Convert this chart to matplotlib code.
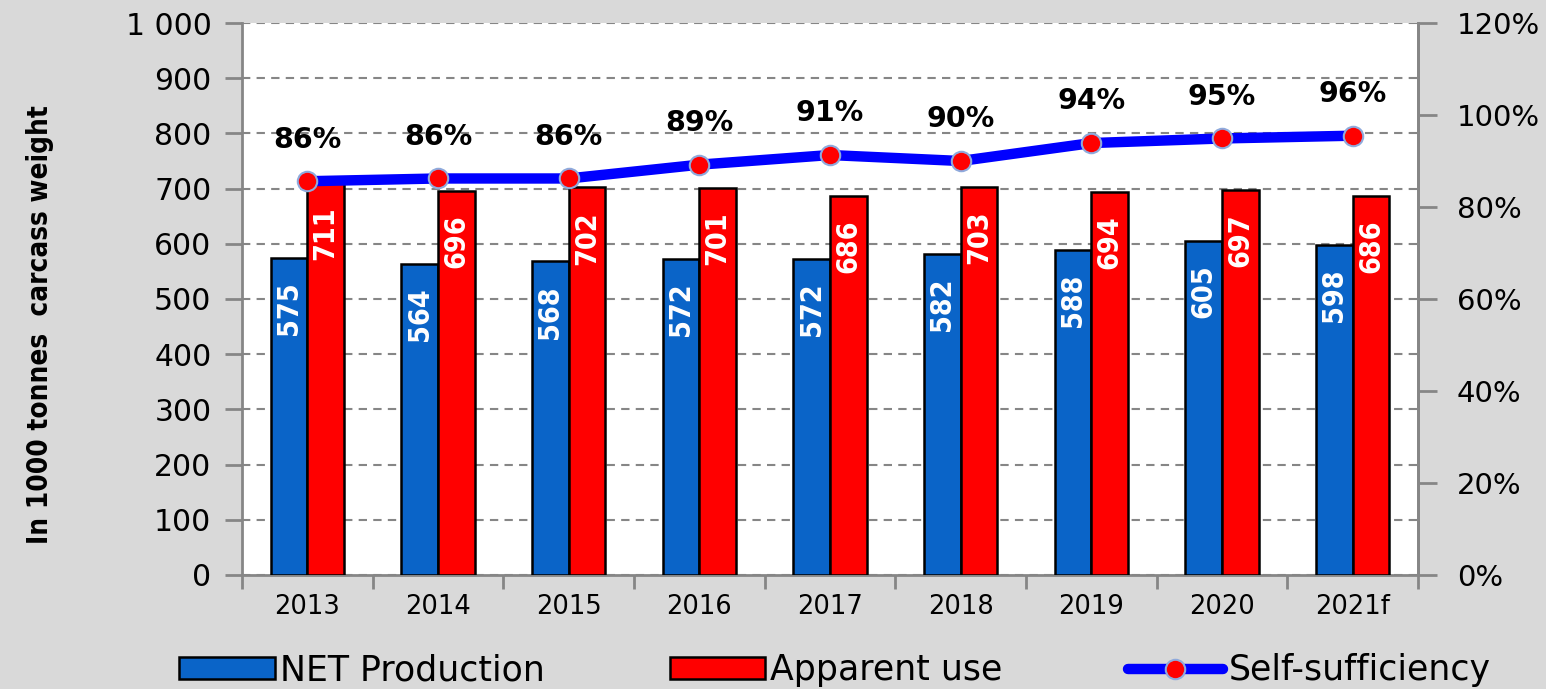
import numpy as np
import matplotlib.pyplot as plt
from matplotlib import font_manager as fm
from matplotlib.ticker import FuncFormatter, MultipleLocator

years = ["2013", "2014", "2015", "2016", "2017", "2018", "2019", "2020", "2021f"]
net_production = [575, 564, 568, 572, 572, 582, 588, 605, 598]
apparent_use = [711, 696, 702, 701, 686, 703, 694, 697, 686]
self_sufficiency = [85.6, 86.2, 86.2, 89.2, 91.3, 90.0, 93.9, 94.9, 95.5]
pct_labels = ["86%", "86%", "86%", "89%", "91%", "90%", "94%", "95%", "96%"]

bg = "#d9d9d9"
blue_bar = "#0a64c8"
red_bar = "#ff0000"
grid_col = "#868686"

# condensed DejaVu for the bar labels, if installed
cond_ok = any(f.name == "DejaVu Sans" and f.stretch == "condensed" and f.weight in ("bold", 700)
              for f in fm.fontManager.ttflist)
stretch = "condensed" if cond_ok else "normal"

fig = plt.figure(figsize=(15.46, 6.89), dpi=100, facecolor=bg)
ax = fig.add_axes([0.1565, 0.1655, 0.7607, 0.8011])
ax.set_facecolor("white")

x = np.arange(len(years))
w = 0.28
b1 = ax.bar(x - w / 2, net_production, w, color=blue_bar, edgecolor="black", linewidth=1.8,
            label="NET Production", zorder=3)
b2 = ax.bar(x + w / 2, apparent_use, w, color=red_bar, edgecolor="black", linewidth=1.8,
            label="Apparent use", zorder=3)

for bars, vals in [(b1, net_production), (b2, apparent_use)]:
    for r, v in zip(bars, vals):
        ax.annotate(str(v), (r.get_x() + r.get_width() / 2, v), xytext=(0, -17),
                    textcoords="offset points", rotation=90, ha="center", va="top",
                    color="white", fontsize=20.5 if cond_ok else 17, fontweight="bold",
                    fontstretch=stretch, zorder=4)

ax.set_xlim(-0.5, len(years) - 0.5)
ax.set_ylim(0, 1000)
ax.yaxis.set_major_locator(MultipleLocator(100))
ax.yaxis.set_major_formatter(FuncFormatter(lambda v, p: f"{int(v):,}".replace(",", " ")))
ax.grid(axis="y", color=grid_col, linestyle=(0, (4, 3)), linewidth=1.5, zorder=0)

ax.set_xticks(np.arange(len(years) + 1) - 0.5)
ax.set_xticklabels([])
ax.set_xticks(x, minor=True)
ax.set_xticklabels(years, minor=True, fontsize=18.5)
ax.tick_params(axis="x", which="major", length=10, width=2, color=grid_col, direction="out")
ax.tick_params(axis="x", which="minor", length=0, pad=14)
ax.tick_params(axis="y", length=12, width=2, color=grid_col, labelsize=21.5, pad=10)

for s in ["left", "bottom", "right"]:
    ax.spines[s].set_color(grid_col)
    ax.spines[s].set_linewidth(2)
ax.spines["top"].set_visible(False)

ax.set_ylabel("In 1000 tonnes  carcass weight", fontsize=20 if cond_ok else 18,
              fontweight="bold", fontstretch=stretch)
ax.yaxis.set_label_coords(-0.160, 0.453)

ax2 = ax.twinx()
ax2.set_ylim(0, 120)
ax2.yaxis.set_major_locator(MultipleLocator(20))
ax2.yaxis.set_major_formatter(FuncFormatter(lambda v, p: f"{int(v)}%"))
ax2.tick_params(axis="y", length=14, width=2, color=grid_col, labelsize=21, pad=14)
for s in ["left", "bottom", "top"]:
    ax2.spines[s].set_visible(False)
ax2.spines["right"].set_color(grid_col)
ax2.spines["right"].set_linewidth(2)

ln, = ax2.plot(x, self_sufficiency, color="#0000ff", linewidth=7.5, marker="o", markersize=14,
               markerfacecolor="#ff0000", markeredgecolor="#8faadc", markeredgewidth=1.5,
               solid_capstyle="round", label="Self-sufficiency", zorder=5)
for xi, v, t in zip(x, self_sufficiency, pct_labels):
    ax2.annotate(t, (xi, v), xytext=(0, 30), textcoords="offset points", ha="center",
                 va="center", fontsize=20.5, fontweight="bold")

fig.legend(handles=[b1, b2, ln], loc="center", bbox_to_anchor=(0.54, 0.027), ncol=3,
           frameon=False, fontsize=25, handlelength=2.75, handleheight=0.6,
           handletextpad=0.15, columnspacing=3.6)

fig.savefig("out.png", dpi=100, facecolor=bg)
